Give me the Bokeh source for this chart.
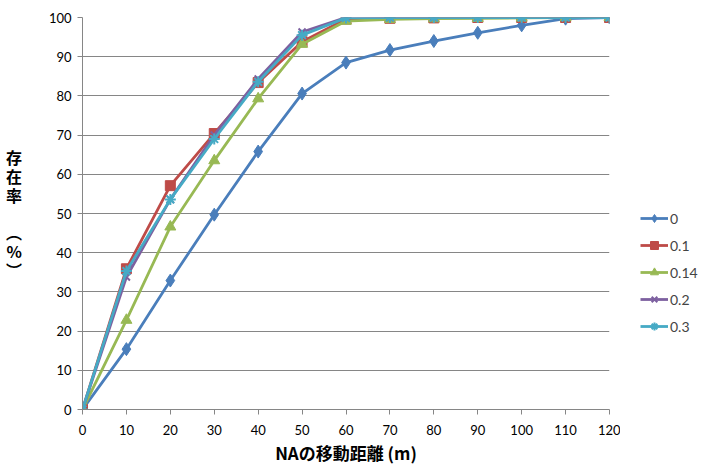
from bokeh.plotting import figure
from bokeh.models import Legend, LegendItem, FixedTicker, Range1d
from bokeh.layouts import row
from bokeh.embed import file_html
from bokeh.resources import INLINE

distance = [0, 10, 20, 30, 40, 50, 60, 70, 80, 90, 100, 110, 120]
series_names = ["0", "0.1", "0.14", "0.2", "0.3"]
s_0 = [0, 15.4, 32.9, 49.7, 65.8, 80.6, 88.5, 91.7, 94.0, 96.1, 98.0, 99.7, 100]
s_01 = [0, 35.9, 57.1, 70.4, 83.4, 93.8, 99.6, 99.8, 99.9, 100, 100, 100, 100]
s_014 = [0, 22.8, 46.6, 63.5, 79.3, 93.2, 99.1, 99.5, 99.7, 99.8, 99.9, 100, 100]
s_02 = [0, 33.8, 53.6, 70.0, 84.3, 96.3, 100, 100, 100, 100, 100, 100, 100]
s_03 = [0, 35.3, 53.6, 69.0, 83.6, 95.5, 99.9, 100, 100, 100, 100, 100, 100]
x_ticks = list(range(0, 121, 10))
y_ticks = list(range(0, 101, 10))

series = [s_0, s_01, s_014, s_02, s_03]
colors = ["#4A7EBB", "#BE4B48", "#98B954", "#7D60A0", "#46AAC5"]
markers = ["diamond", "square", "triangle", "x", "asterisk"]
msizes = [13, 10, 11, 10, 11]

p = figure(width=620, height=470, output_backend="svg", toolbar_location=None,
           x_range=Range1d(0, 120), y_range=Range1d(0, 100),
           min_border_left=82, min_border_right=11, min_border_top=17,
           min_border_bottom=61)
p.outline_line_color = None
p.background_fill_color = "white"
p.border_fill_color = "white"

p.xgrid.grid_line_color = None
p.ygrid.grid_line_color = "#868686"
p.ygrid.grid_line_width = 1
p.xaxis.ticker = FixedTicker(ticks=x_ticks)
p.yaxis.ticker = FixedTicker(ticks=y_ticks)
for ax in (p.xaxis, p.yaxis):
    ax.axis_line_color = "#868686"
    ax.major_tick_line_color = "#868686"
    ax.major_tick_out = 5
    ax.major_tick_in = 0
    ax.minor_tick_out = 0
    ax.minor_tick_in = 0
    ax.major_label_text_font = "Lato"
    ax.major_label_text_font_size = "13px"
    ax.major_label_text_color = "black"
    ax.axis_label_text_font = "Noto Sans CJK JP"
    ax.axis_label_text_font_style = "bold"
    ax.axis_label_text_color = "black"

p.xaxis.axis_label = "NAの移動距離 (m)"
p.xaxis.axis_label_text_font_size = "17px"
p.xaxis.axis_label_standoff = 2
p.xaxis.major_label_standoff = 10

p.yaxis.axis_label = "存\n在\n率\n\n︵\n%\n︶"
p.yaxis.axis_label_orientation = "horizontal"
p.yaxis.axis_label_text_font_size = "16px"
p.yaxis.axis_label_text_line_height = 0.78
p.yaxis.axis_label_standoff = 24
p.yaxis.major_label_standoff = 6

for name, ys, c, m, ms in zip(series_names, series, colors, markers, msizes):
    p.line(distance, ys, line_color=c, line_width=2.8)
    p.scatter(distance, ys, marker=m, size=ms, fill_color=c, line_color=c,
              line_width=2 if m in ("x", "asterisk") else 1)

# legend panel: same series drawn off-range so only the legend shows
q = figure(width=94, height=470, output_backend="svg", toolbar_location=None,
           x_axis_type=None, y_axis_type=None, min_border=0,
           x_range=Range1d(1000, 1001), y_range=Range1d(1000, 1001))
q.outline_line_color = None
q.xgrid.grid_line_color = None
q.ygrid.grid_line_color = None
q.background_fill_color = "white"
q.border_fill_color = "white"

items = []
for name, ys, c, m, ms in zip(series_names, series, colors, markers, msizes):
    r1 = q.line(distance, ys, line_color=c, line_width=2.8)
    r2 = q.scatter(distance, ys, marker=m, size=ms, fill_color=c, line_color=c,
                   line_width=2 if m in ("x", "asterisk") else 1)
    items.append(LegendItem(label=name, renderers=[r1, r2]))

legend = Legend(items=items, location=(20, 73), orientation="vertical",
                glyph_width=28, glyph_height=20, label_height=20, spacing=7,
                padding=0, margin=0, label_standoff=2,
                label_text_font="Lato", label_text_font_size="14px",
                background_fill_alpha=0, border_line_color=None)
q.add_layout(legend, "center")

layout = row(p, q, spacing=0)
open("out.html", "w").write(file_html(layout, INLINE))
